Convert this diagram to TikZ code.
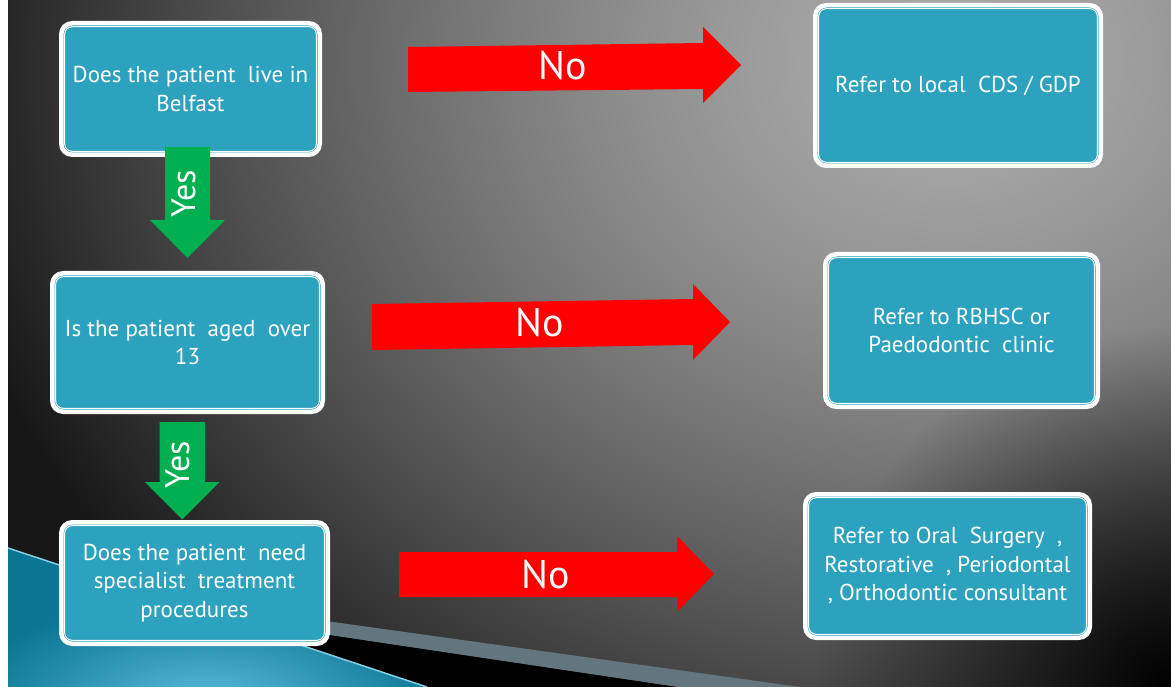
\documentclass[tikz,border=0pt]{standalone}
\usepackage{fontspec}
\setmainfont{PT Sans}
\definecolor{boxblue}{HTML}{2CA2BF}
\definecolor{yesgreen}{HTML}{00B050}
\definecolor{nored}{HTML}{FF0000}
\definecolor{tealdark}{HTML}{0A7693}
\definecolor{teallight}{HTML}{5CBCDB}
\definecolor{tealline}{HTML}{86CDE4}
\definecolor{bandgray}{HTML}{63767F}
\pgfdeclarefunctionalshading{bgshade}{\pgfpointorigin}{\pgfpoint{100bp}{100bp}}{}{
 exch 25 sub 23.26 mul 8 add exch
 75 exch sub 13.74 mul
 2 copy 60 sub 1.2 mul dup mul exch 950 sub dup mul add sqrt
 1000 div 1.4 exp 0.56 mul 0.67 exch sub
 dup 0.09 lt {pop 0.09} if
 3 1 roll
 687 exch sub dup mul exch 1171 exch sub dup mul add sqrt
 360 div dup 1 gt {pop 1} if
 mul dup dup
}
\tikzset{
 qbox/.style={draw=white, line width=4.5pt, fill=boxblue, rounded corners=11pt, text=white, align=center, inner sep=0pt, outer sep=0pt, font=\fontsize{23}{28.5}\selectfont},
 innerline/.style={draw=white, line width=1pt, rounded corners=7.5pt},
 redarrow/.style={fill=nored},
 greenarrow/.style={fill=yesgreen},
 nolabel/.style={text=white, font=\fontsize{40}{40}\selectfont, inner sep=0pt},
 yeslabel/.style={text=white, font=\fontsize{34}{34}\selectfont, inner sep=0pt, rotate=90},
}
\begin{document}
\begin{tikzpicture}[x=1pt,y=-1pt]
\useasboundingbox (0,0) rectangle (1171,687);
\fill[white] (0,0) rectangle (8,687);
\shade[shading=bgshade] (8,0) rectangle (1171,687);
% bottom-left swoosh
\fill[bandgray] (161,598) -- (800,687) -- (677,687) -- (228,620) -- cycle;
\fill[black] (228,620) -- (677,687) -- (427,687) -- cycle;
\begin{scope}
  \clip (8,548) -- (427,687) -- (8,687) -- cycle;
  \fill[tealdark] (8,548) -- (427,687) -- (8,687) -- cycle;
  \shade[inner color=teallight, outer color=tealdark] (205,705) ellipse (240 and 110);
\end{scope}
\draw[tealline, line width=1.5pt] (8,548) -- (427,687);
% boxes
\node[qbox, minimum width=258.5, minimum height=131.5] (q1) at (190.5,89) {Does the patient\ \ live in\\Belfast};
\node[qbox, minimum width=285.5, minimum height=160.5] (r1) at (958,85.5) {Refer to local\ \ CDS / GDP};
\node[qbox, minimum width=270.5, minimum height=138.5] (q2) at (187.5,342.5) {Is the patient\ \ aged\ \ over\\13};
\node[qbox, minimum width=272.5, minimum height=152.5] (r2) at (961.5,330.5) {Refer to RBHSC or\\Paedodontic\ \ clinic};
\node[qbox, minimum width=266.5, minimum height=121.5] (q3) at (194.5,583) {Does the patient\ \ need\\specialist\ \ treatment\\procedures};
\node[qbox, minimum width=284.5, minimum height=143.5] (r3) at (947.5,566) {Refer to Oral\ \ Surgery\ \ ,\\Restorative\ \ , Periodontal\\, Orthodontic consultant};
\foreach \n in {q1,r1,q2,r2,q3,r3}
  \draw[innerline] ([shift={(3.45,3.45)}]\n.north west) rectangle ([shift={(-3.45,-3.45)}]\n.south east);
% red "No" arrows
\fill[redarrow] (408,47) -- (703,43) -- (703,27) -- (741,65) -- (703,103) -- (703,89) -- (408,92) -- cycle;
\node[nolabel] (no1) at (563,66) {No};
\fill[redarrow] (372,304) -- (693,299) -- (693,284) -- (730,322) -- (693,360) -- (693,345) -- (372,350) -- cycle;
\node[nolabel] (no2) at (540,323) {No};
\fill[redarrow] (399,552) -- (677,552) -- (677,536) -- (714,574) -- (677,612) -- (677,597) -- (399,597) -- cycle;
\node[nolabel] (no3) at (546,575) {No};
% green "Yes" arrows
\fill[greenarrow] (165,147) -- (210,147) -- (210,220) -- (225,220) -- (187.5,258) -- (150,220) -- (165,220) -- cycle;
\node[yeslabel] (yes1) at (184,194) {Yes};
\fill[greenarrow] (159.5,422) -- (205,422) -- (205,482) -- (219.5,482) -- (182.25,519.5) -- (145,482) -- (159.5,482) -- cycle;
\node[yeslabel] (yes2) at (178.3,465) {Yes};
\end{tikzpicture}
\end{document}
